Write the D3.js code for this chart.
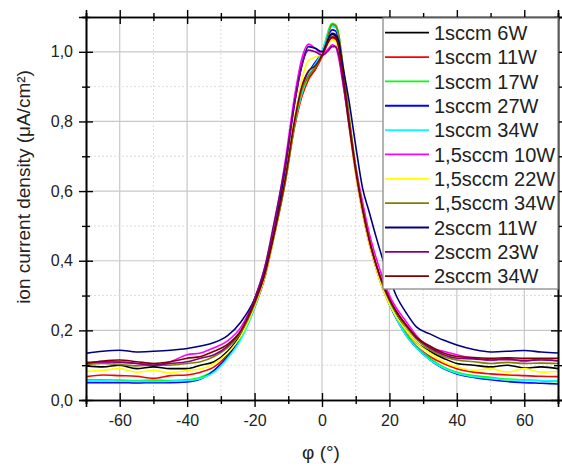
<!DOCTYPE html>
<html><head><meta charset="utf-8">
<script src="https://cdn.jsdelivr.net/npm/d3@7"></script>
<style>
html,body{margin:0;padding:0;background:#fff;}
svg{display:block;font-family:"Liberation Sans",Arial,sans-serif;}
</style></head>
<body><svg id="c" width="562" height="466"></svg>
<script>
// ---- data ----
const phi = [-70,-65,-60,-55,-50,-45,-40,-36,-32,-28,-24,-20,-17,-14,-11,-8,-6,-4,-2,0,1,2,3,4,5,6,8,10,12,14,16,18,20,22,25,28,32,36,40,45,50,55,60,65,70];
const s1sccm6W = [0.098,0.095,0.100,0.090,0.095,0.090,0.090, 0.100,0.110,0.140,0.190,0.275,0.360,0.490, 0.630,0.800,0.890,0.925,0.950,0.990,1.015,1.040,1.050,1.045,1.015, 0.95,0.80,0.66,0.55,0.46,0.39,0.33,0.285,0.245,0.20,0.165,0.14,0.12,0.105,0.10,0.095,0.10,0.092,0.095,0.09];
const s1sccm11W = [0.067,0.072,0.070,0.068,0.062,0.070,0.072, 0.080,0.095,0.130,0.180,0.265,0.350,0.480, 0.620,0.790,0.870,0.920,0.950,0.985,1.010,1.030,1.040,1.035,1.005, 0.94,0.79,0.65,0.54,0.45,0.38,0.32,0.275,0.235,0.19,0.155,0.125,0.105,0.09,0.08,0.075,0.072,0.07,0.068,0.067];
const s1sccm17W = [0.058,0.058,0.057,0.056,0.057,0.056,0.058, 0.065,0.085,0.125,0.180,0.270,0.360,0.490, 0.630,0.800,0.880,0.930,0.960,1.000,1.030,1.065,1.082,1.078,1.050, 0.97,0.81,0.67,0.555,0.465,0.39,0.33,0.28,0.24,0.19,0.155,0.12,0.095,0.08,0.07,0.065,0.06,0.058,0.055,0.053];
const s1sccm27W = [0.050,0.050,0.050,0.049,0.050,0.050,0.052, 0.060,0.085,0.125,0.185,0.280,0.370,0.500, 0.640,0.810,0.890,0.940,0.970,1.000,1.025,1.050,1.063,1.060,1.030, 0.96,0.80,0.66,0.55,0.46,0.385,0.325,0.275,0.235,0.185,0.15,0.115,0.09,0.075,0.065,0.058,0.053,0.05,0.048,0.046];
const s1sccm34W = [0.055,0.055,0.054,0.054,0.053,0.054,0.056, 0.062,0.080,0.120,0.175,0.265,0.355,0.490, 0.630,0.800,0.880,0.935,0.965,1.000,1.030,1.060,1.073,1.070,1.040, 0.96,0.805,0.665,0.55,0.46,0.385,0.325,0.275,0.235,0.185,0.15,0.115,0.092,0.077,0.067,0.062,0.058,0.057,0.056,0.055];
const s15sccm10W = [0.103,0.108,0.110,0.105,0.100,0.110,0.130, 0.135,0.150,0.170,0.210,0.290,0.380,0.510, 0.680,0.880,0.980,1.022,1.010,0.995,1.000,1.010,1.020,1.015,0.980, 0.92,0.80,0.67,0.57,0.48,0.41,0.35,0.30,0.265,0.225,0.185,0.15,0.14,0.13,0.12,0.115,0.12,0.11,0.118,0.112];
const s15sccm22W = [0.082,0.085,0.090,0.080,0.085,0.078,0.085, 0.090,0.105,0.135,0.185,0.270,0.355,0.480, 0.640,0.820,0.920,0.975,0.985,0.995,1.010,1.025,1.035,1.030,1.000, 0.94,0.79,0.65,0.54,0.45,0.38,0.32,0.275,0.24,0.20,0.165,0.135,0.11,0.095,0.085,0.09,0.08,0.09,0.08,0.082];
const s15sccm34W = [0.103,0.105,0.102,0.098,0.100,0.100,0.105, 0.110,0.125,0.150,0.195,0.275,0.360,0.480, 0.620,0.800,0.890,0.930,0.955,0.990,1.020,1.055,1.078,1.075,1.045, 0.98,0.82,0.67,0.555,0.465,0.39,0.33,0.285,0.25,0.21,0.175,0.145,0.125,0.115,0.11,0.105,0.108,0.105,0.106,0.105];
const s2sccm11W = [0.134,0.140,0.143,0.138,0.140,0.143,0.148, 0.155,0.165,0.185,0.225,0.290,0.370,0.490, 0.660,0.860,0.960,1.015,1.010,1.000,1.015,1.040,1.053,1.050,1.030, 0.97,0.86,0.73,0.61,0.54,0.47,0.405,0.35,0.30,0.25,0.21,0.19,0.172,0.158,0.145,0.138,0.14,0.142,0.138,0.135];
const s2sccm23W = [0.108,0.110,0.108,0.105,0.100,0.105,0.110, 0.120,0.130,0.155,0.200,0.290,0.380,0.520, 0.670,0.860,0.960,1.005,1.000,0.990,0.995,1.005,1.015,1.015,0.990, 0.93,0.79,0.66,0.55,0.46,0.39,0.335,0.29,0.255,0.215,0.18,0.15,0.13,0.12,0.118,0.115,0.116,0.114,0.115,0.113];
const s2sccm34W = [0.105,0.112,0.115,0.110,0.105,0.110,0.120, 0.125,0.140,0.160,0.200,0.280,0.360,0.490, 0.630,0.810,0.900,0.945,0.960,0.990,1.010,1.030,1.043,1.040,1.010, 0.95,0.80,0.66,0.55,0.46,0.39,0.335,0.29,0.255,0.215,0.18,0.155,0.135,0.125,0.122,0.12,0.121,0.12,0.12,0.12];

const seriesNames = ["1sccm 6W","1sccm 11W","1sccm 17W","1sccm 27W","1sccm 34W","1,5sccm 10W","1,5sccm 22W","1,5sccm 34W","2sccm 11W","2sccm 23W","2sccm 34W"];
const seriesValues = [s1sccm6W,s1sccm11W,s1sccm17W,s1sccm27W,s1sccm34W,s15sccm10W,s15sccm22W,s15sccm34W,s2sccm11W,s2sccm23W,s2sccm34W];
const seriesColors = ["#000000","#ff0000","#00ff00","#0000ff","#00ffff","#ff00ff","#ffff00","#808000","#000080","#800080","#800000"];

const xMajor = [-60,-40,-20,0,20,40,60];
const xTickLabels = ["-60","-40","-20","0","20","40","60"];
const xMinor = [-70,-50,-30,-10,10,30,50,70];
const yMajor = [0,0.2,0.4,0.6,0.8,1.0];
const yTickLabels = ["0,0","0,2","0,4","0,6","0,8","1,0"];
const yMinor = [0.1,0.3,0.5,0.7,0.9,1.1];

// ---- layout ----
const L=86, R=558, T=17, B=400;
const svg = d3.select("#c");
const x = d3.scaleLinear().domain([-70,70]).range([L,R]);
const y = d3.scaleLinear().domain([0,1.1]).range([B,T]);

// grid
const g = svg.append("g");
g.selectAll(".gmx").data(xMajor).join("line")
  .attr("x1",d=>x(d)).attr("x2",d=>x(d)).attr("y1",T).attr("y2",B)
  .attr("stroke","#c8c8c8").attr("stroke-width",1.2);
g.selectAll(".gmy").data(yMajor.filter(v=>v>0)).join("line")
  .attr("y1",d=>y(d)).attr("y2",d=>y(d)).attr("x1",L).attr("x2",R)
  .attr("stroke","#c8c8c8").attr("stroke-width",1.2);
g.selectAll(".gnx").data(xMinor.filter(v=>v>-70&&v<70)).join("line")
  .attr("x1",d=>x(d)).attr("x2",d=>x(d)).attr("y1",T).attr("y2",B)
  .attr("stroke","#dcdcdc").attr("stroke-width",1).attr("stroke-dasharray","2,2");
g.selectAll(".gny").data(yMinor.filter(v=>v<1.1)).join("line")
  .attr("y1",d=>y(d)).attr("y2",d=>y(d)).attr("x1",L).attr("x2",R)
  .attr("stroke","#dcdcdc").attr("stroke-width",1).attr("stroke-dasharray","2,2");

// curves
svg.append("clipPath").attr("id","clip").append("rect")
  .attr("x",L).attr("y",T).attr("width",R-L).attr("height",B-T);
const line = d3.line().x((d,i)=>x(phi[i])).y(d=>y(d)).curve(d3.curveMonotoneX);
const cg = svg.append("g").attr("clip-path","url(#clip)");
seriesValues.forEach((vals,k)=>{
  cg.append("path").attr("d",line(vals)).attr("fill","none")
    .attr("stroke",seriesColors[k]).attr("stroke-width",1.6).attr("stroke-linejoin","round");
});

// axes
const axB = svg.append("g").attr("transform",`translate(0,${B})`)
  .call(d3.axisBottom(x).tickValues(xMajor).tickSize(7).tickFormat((d,i)=>xTickLabels[i]));
axB.selectAll(".tick line").attr("y1",-7).attr("y2",7);
axB.selectAll(".tick text").attr("y",15).attr("font-size",16).attr("fill","#222");
const axBm = svg.append("g").attr("transform",`translate(0,${B})`)
  .call(d3.axisBottom(x).tickValues(xMinor).tickSize(4).tickFormat(""));
axBm.selectAll(".tick line").attr("y1",-4).attr("y2",4);

const axT = svg.append("g").attr("transform",`translate(0,${T})`)
  .call(d3.axisTop(x).tickValues(xMajor).tickSize(7).tickFormat(""));
axT.selectAll(".tick line").attr("y1",-7).attr("y2",7);
const axTm = svg.append("g").attr("transform",`translate(0,${T})`)
  .call(d3.axisTop(x).tickValues(xMinor).tickSize(4).tickFormat(""));
axTm.selectAll(".tick line").attr("y1",-4).attr("y2",4);

const axL = svg.append("g").attr("transform",`translate(${L},0)`)
  .call(d3.axisLeft(y).tickValues(yMajor).tickSize(7).tickFormat((d,i)=>yTickLabels[i]));
axL.selectAll(".tick line").attr("x1",-7).attr("x2",7);
axL.selectAll(".tick text").attr("x",-13).attr("font-size",16).attr("fill","#222");
const axLm = svg.append("g").attr("transform",`translate(${L},0)`)
  .call(d3.axisLeft(y).tickValues(yMinor).tickSize(4).tickFormat(""));
axLm.selectAll(".tick line").attr("x1",-4).attr("x2",4);

const axR = svg.append("g").attr("transform",`translate(${R},0)`)
  .call(d3.axisRight(y).tickValues(yMajor).tickSize(7).tickFormat(""));
axR.selectAll(".tick line").attr("x1",-7).attr("x2",7);
const axRm = svg.append("g").attr("transform",`translate(${R},0)`)
  .call(d3.axisRight(y).tickValues(yMinor).tickSize(4).tickFormat(""));
axRm.selectAll(".tick line").attr("x1",-4).attr("x2",4);

[axB,axBm,axT,axTm,axL,axLm,axR,axRm].forEach(a=>{
  a.select(".domain").attr("stroke","#000").attr("stroke-width",1.6);
  a.selectAll(".tick line").attr("stroke","#000").attr("stroke-width",1.4);
  a.selectAll("text").attr("font-family","'Liberation Sans',Arial,sans-serif");
});

// legend
const lg = svg.append("g");
const lx0 = 383, ly0 = 18, rowH = 24.35;
lg.append("rect").attr("x",lx0).attr("y",ly0).attr("width",R-lx0).attr("height",289-ly0)
  .attr("fill","#fff").attr("stroke","#8a8a8a").attr("stroke-width",1.3);
seriesNames.forEach((n,k)=>{
  const cy = 32.7 + k*rowH;
  lg.append("line").attr("x1",385).attr("x2",429).attr("y1",cy).attr("y2",cy)
    .attr("stroke",seriesColors[k]).attr("stroke-width",1.8);
  lg.append("text").attr("x",434).attr("y",cy).attr("dy","0.36em")
    .attr("font-size",20).attr("fill","#222").text(n);
});

// axis titles
svg.append("text").attr("transform","translate(30,187) rotate(-90)")
  .attr("text-anchor","middle").attr("font-size",19).attr("fill","#222")
  .text("ion current density (μA/cm²)");
svg.append("text").attr("x",321).attr("y",459).attr("text-anchor","middle")
  .attr("font-size",19).attr("fill","#222").text("φ (°)");
</script></body></html>
